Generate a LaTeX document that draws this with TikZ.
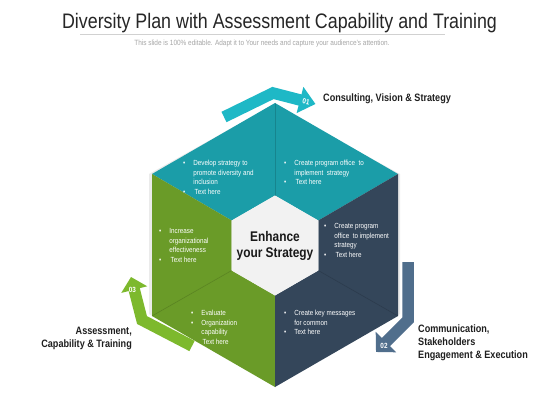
\documentclass[tikz,border=0pt]{standalone}
\usepackage{fontspec}
\setmainfont{Liberation Sans}[FakeStretch=0.85]
\usetikzlibrary{arrows.meta}
\definecolor{tealface}{HTML}{1B9DA8}
\definecolor{greenface}{HTML}{6A9B28}
\definecolor{darkface}{HTML}{34465A}
\definecolor{tealarrow}{HTML}{1EB8C6}
\definecolor{slatearrow}{HTML}{506E8C}
\definecolor{greenarrow}{HTML}{7DB92D}
\definecolor{innerhex}{HTML}{F2F2F2}
\tikzset{
  facefill/.style={fill=#1, draw=none},
  divider/.style={draw=black, draw opacity=0.15, line width=0.6pt},
  smalltxt/.style={text=white, font=\fontsize{7.4}{9.5}\selectfont, inner sep=0pt, anchor=base west},
  sidelbl/.style={font=\bfseries\fontsize{10.7}{13}\selectfont, text=black!88, inner sep=0pt},
  ribbon/.style={draw=#1, line width=11.5pt, line join=miter, line cap=butt},
  numlbl/.style={text=white, font=\bfseries\fontsize{7.5}{9}\selectfont, inner sep=0pt}
}
\begin{document}
\begin{tikzpicture}[x=1pt,y=-1pt]
\useasboundingbox (0,0) rectangle (560,420);
\fill[white] (0,0) rectangle (560,420);

% title
\node[anchor=base, inner sep=0pt, text=black!85, font=\fontsize{21}{25}\selectfont] (title) at (279.5,29) {Diversity Plan with Assessment Capability and Training};
\coordinate (ulA) at (80,34);
\coordinate (ulB) at (445,34);
\draw[black!18, line width=0.8pt] (ulA) -- (ulB);
\node[anchor=base, inner sep=0pt, text=black!35, font=\fontsize{7.6}{9}\selectfont] (subtitle) at (262,45.5) {This slide is 100\% editable. Adapt it to Your needs and capture your audience's attention.};

% outer hexagon vertices
\coordinate (T) at (275,103);
\coordinate (UR) at (398,174);
\coordinate (LR) at (398,316);
\coordinate (B) at (275,387);
\coordinate (LL) at (152,316);
\coordinate (UL) at (152,174);
% inner hexagon vertices
\coordinate (t) at (275,195.5);
\coordinate (ur) at (318.3,220.5);
\coordinate (lr) at (318.3,270.5);
\coordinate (b) at (275,295.5);
\coordinate (ll) at (231.7,270.5);
\coordinate (ul) at (231.7,220.5);

\fill[black, opacity=0.08] ([xshift=-2pt,yshift=-2pt]T) -- ([xshift=2pt]UR) -- ([xshift=2pt,yshift=2pt]LR) -- ([yshift=3pt]B) -- ([xshift=-3pt,yshift=2pt]LL) -- ([xshift=-3pt]UL) -- cycle;
\path[facefill=tealface] (T) -- (UR) -- (ur) -- (t) -- (ul) -- (UL) -- cycle;
\path[facefill=greenface] (UL) -- (ul) -- (ll) -- (b) -- (B) -- (LL) -- cycle;
\path[facefill=darkface] (UR) -- (LR) -- (B) -- (b) -- (lr) -- (ur) -- cycle;
\path[facefill=innerhex] (t) -- (ur) -- (lr) -- (b) -- (ll) -- (ul) -- cycle;
\draw[divider] (T) -- (t);
\draw[divider] (ll) -- (LL);
\draw[divider] (lr) -- (LR);

\node[font=\bfseries\fontsize{14}{16}\selectfont, align=center, text=black!90, inner sep=0pt] (center) at (275,246) {Enhance\\your Strategy};

% segment texts
\node[smalltxt] (tl) at (183,165.5) {\begin{tabular}[t]{@{}l@{\hspace{8pt}}l@{}}•&Develop strategy to\\&promote diversity and\\&inclusion\\•&\,Text here\end{tabular}};
\node[smalltxt] (tr) at (284,165.5) {\begin{tabular}[t]{@{}l@{\hspace{8pt}}l@{}}•&Create program office\ \ to\\&implement\ \ strategy\\•&\,Text here\end{tabular}};
\node[smalltxt] (gu) at (159,233.5) {\begin{tabular}[t]{@{}l@{\hspace{8pt}}l@{}}•&Increase\\&organizational\\&effectiveness\\•&\,Text here\end{tabular}};
\node[smalltxt] (gl) at (191,315.5) {\begin{tabular}[t]{@{}l@{\hspace{8pt}}l@{}}•&Evaluate\\•&Organization\\&capability\\&\,Text here\end{tabular}};
\node[smalltxt] (du) at (324,228.5) {\begin{tabular}[t]{@{}l@{\hspace{8pt}}l@{}}•&Create program\\&office\ \ to implement\\&strategy\\•&\,Text here\end{tabular}};
\node[smalltxt] (dl) at (284,315.5) {\begin{tabular}[t]{@{}l@{\hspace{8pt}}l@{}}•&Create key messages\\&for common\\•&Text here\end{tabular}};

% arrow 01
\coordinate (a1s) at (224,117);
\coordinate (a1m) at (273,93);
\coordinate (a1e) at (315.5,104);
\draw[ribbon=tealarrow, -{Triangle[length=16pt,width=26pt]}, tealarrow] (a1s) -- (a1m) -- (a1e);
\node[numlbl, rotate=-10] (n01) at (306,102) {01};
% arrow 02
\coordinate (a2s) at (408,262);
\coordinate (a2m) at (408,320);
\coordinate (a2e) at (376,352);
\draw[ribbon=slatearrow, -{Triangle[length=14pt,width=28pt]}, slatearrow] (a2s) -- (a2m) -- (a2e);
\node[numlbl] (n02) at (384,346) {02};
% arrow 03
\coordinate (a3s) at (192,346);
\coordinate (a3m) at (142,320);
\coordinate (a3e) at (131,277);
\draw[ribbon=greenarrow, -{Triangle[length=13pt,width=26pt]}, greenarrow] (a3s) -- (a3m) -- (a3e);
\node[numlbl] (n03) at (132.5,289.5) {03};

% side labels
\node[sidelbl, anchor=base west] (lab1) at (323,102) {Consulting, Vision \& Strategy};
\node[sidelbl, anchor=base east, align=right] (lab3) at (132,347) {Assessment,\\Capability \& Training};
\node[sidelbl, anchor=base west, align=left] (lab2) at (418,358) {Communication,\\Stakeholders\\Engagement \& Execution};
\end{tikzpicture}
\end{document}
